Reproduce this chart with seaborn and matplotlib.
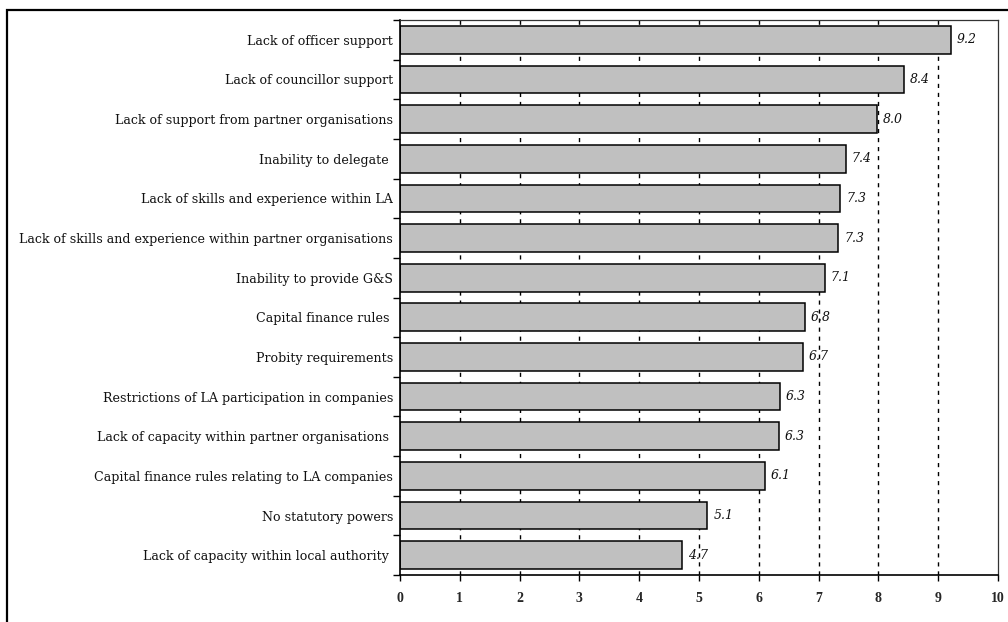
import matplotlib
matplotlib.use("Agg")
import matplotlib.pyplot as plt
import numpy as np
import pandas as pd
import seaborn as sns
from matplotlib.patches import Rectangle
from matplotlib.ticker import FixedLocator

sns.set_theme(style="white")
plt.rcParams['font.family'] = ['DejaVu Serif']

# barriers, top to bottom
barriers = [
    "Lack of officer support",
    "Lack of councillor support",
    "Lack of support from partner organisations",
    "Inability to delegate ",
    "Lack of skills and experience within LA",
    "Lack of skills and experience within partner organisations",
    "Inability to provide G&S",
    "Capital finance rules ",
    "Probity requirements",
    "Restrictions of LA participation in companies",
    "Lack of capacity within partner organisations ",
    "Capital finance rules relating to LA companies",
    "No statutory powers",
    "Lack of capacity within local authority ",
]
# bar lengths
scores = [9.21, 8.42, 7.98, 7.45, 7.36, 7.33, 7.10, 6.77, 6.74, 6.35, 6.33, 6.10, 5.14, 4.71]
# printed labels
score_labels = ["9.2", "8.4", "8.0", "7.4", "7.3", "7.3", "7.1", "6.8", "6.7", "6.3", "6.3", "6.1", "5.1", "4.7"]
x_ticks = list(range(0, 11))

df = pd.DataFrame({"barrier": barriers, "score": scores})

fig = plt.figure(figsize=(10.08, 6.22), dpi=100)
ax = fig.add_axes([400 / 1008, 1 - 575 / 622, 598 / 1008, 555 / 622])

# dashed grid behind the bars
for v in x_ticks[1:-1]:
    ax.axvline(v, color="black", lw=1.0, ls=(0, (3, 3.5)), zorder=0)

sns.barplot(data=df, x="score", y="barrier", orient="h", color="#c0c0c0",
            saturation=1, edgecolor="black", linewidth=1.1, width=0.7, ax=ax, zorder=2)

for i, (s, lab) in enumerate(zip(scores, score_labels)):
    ax.text(s + 0.1, i, lab, va="center", ha="left", fontsize=9,
            style="italic", color="#111111", zorder=3)

ax.set_xlim(0, 10)
ax.set_ylim(len(barriers) - 0.5, -0.5)
ax.set_xlabel("")
ax.set_ylabel("")
ax.set_xticks(x_ticks)
ax.set_xticklabels([str(t) for t in x_ticks], fontsize=10, fontfamily="Liberation Serif",
                   fontweight="bold")
ax.tick_params(axis="x", length=4, width=1, color="black", pad=8, direction="out", bottom=True)
ax.tick_params(axis="y", which="major", length=0, pad=5, labelsize=9.1)
ax.yaxis.set_minor_locator(FixedLocator(np.arange(-0.5, len(barriers), 1.0)))
ax.tick_params(axis="y", which="minor", length=5, width=1, color="black", left=True)
for t in ax.get_yticklabels():
    t.set_color("#111111")

for side in ["left", "bottom"]:
    ax.spines[side].set_color("black")
    ax.spines[side].set_linewidth(1.2)
for side in ["top", "right"]:
    ax.spines[side].set_color("#333333")
    ax.spines[side].set_linewidth(0.9)

# outer frame round the whole chart
fig.patches.append(Rectangle((7 / 1008, -0.02), 1.2, 1 - 10 / 622 + 0.02,
                             transform=fig.transFigure, fill=False,
                             edgecolor="black", lw=1.6))

fig.savefig("out.png", dpi=100)
